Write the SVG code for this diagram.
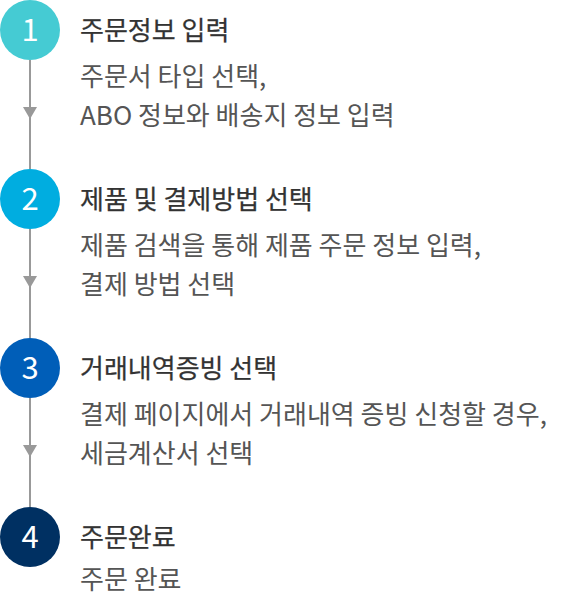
<svg xmlns="http://www.w3.org/2000/svg" width="570" height="594" viewBox="0 0 570 594">
<style>
.num{font-family:"Noto Sans CJK KR","Noto Sans",sans-serif;font-size:31px;fill:#fff;text-anchor:middle;font-weight:400}
.ttl{font-family:"Noto Sans CJK KR","Noto Sans",sans-serif;font-size:26px;fill:#333;stroke:#333;stroke-width:0.25px;font-weight:400}
.body{font-family:"Noto Sans CJK KR","Noto Sans",sans-serif;font-size:26px;fill:#555;font-weight:400}
.ln{stroke:#999;stroke-width:2}
.ah{fill:#999}
</style>
<g id="connectors">
<line class="ln" x1="30" y1="60" x2="30" y2="169"/>
<polygon class="ah" points="23,107 37,107 30,119"/>
<line class="ln" x1="30" y1="229" x2="30" y2="338"/>
<polygon class="ah" points="23,276 37,276 30,288"/>
<line class="ln" x1="30" y1="398" x2="30" y2="507"/>
<polygon class="ah" points="23,445 37,445 30,457"/>
</g>
<g id="step1">
<circle cx="30" cy="30" r="30" fill="#45CBD3"/>
<text class="num" x="30" y="41">1</text>
<text class="ttl" x="80" y="40">주문정보 입력</text>
<text class="body" x="80" y="86">주문서 타입 선택,</text>
<text class="body" x="80" y="125">ABO 정보와 배송지 정보 입력</text>
</g>
<g id="step2">
<circle cx="30" cy="199" r="30" fill="#00ADE0"/>
<text class="num" x="30" y="210">2</text>
<text class="ttl" x="80" y="209">제품 및 결제방법 선택</text>
<text class="body" x="80" y="255">제품 검색을 통해 제품 주문 정보 입력,</text>
<text class="body" x="80" y="294">결제 방법 선택</text>
</g>
<g id="step3">
<circle cx="30" cy="368" r="30" fill="#005EB8"/>
<text class="num" x="30" y="379">3</text>
<text class="ttl" x="80" y="378">거래내역증빙 선택</text>
<text class="body" x="80" y="424">결제 페이지에서 거래내역 증빙 신청할 경우,</text>
<text class="body" x="80" y="463">세금계산서 선택</text>
</g>
<g id="step4">
<circle cx="30" cy="537" r="30" fill="#003062"/>
<text class="num" x="30" y="548">4</text>
<text class="ttl" x="80" y="547">주문완료</text>
<text class="body" x="80" y="589">주문 완료</text>
</g>
</svg>
